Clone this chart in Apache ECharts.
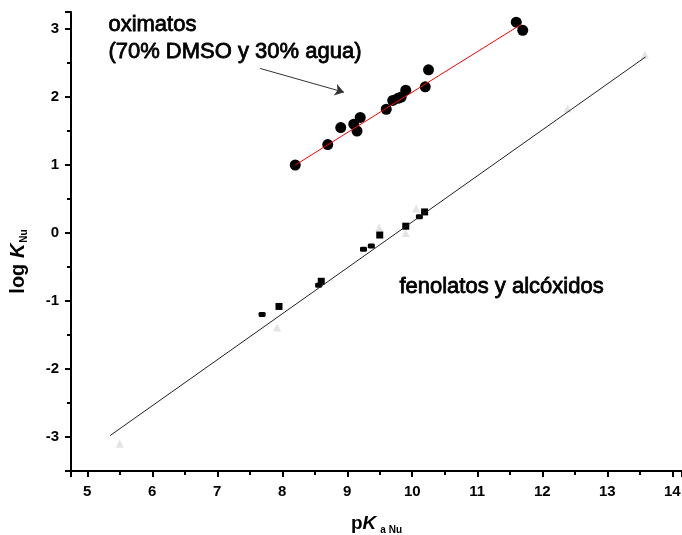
<!DOCTYPE html>
<html>
<head>
<meta charset="utf-8">
<script src="https://cdn.jsdelivr.net/npm/echarts@6/dist/echarts.min.js"></script>
<style>
  html, body { margin: 0; padding: 0; background: #fff; }
  #chart { width: 682px; height: 535px; }
</style>
</head>
<body>
<div id="chart"></div>
<script>
// oximatos (70% DMSO / 30% agua): pKa, log k
var oximatos = [
    [8.2, 1.0], [8.7, 1.3], [8.9, 1.55], [9.1, 1.6], [9.15, 1.5], [9.2, 1.7],
    [9.6, 1.82], [9.7, 1.95], [9.78, 1.98], [9.83, 2.0], [9.9, 2.1],
    [10.2, 2.15], [10.25, 2.4], [11.6, 3.1], [11.7, 2.98]
];
// fenolatos y alcóxidos, several sets
var fenolatosCuadrados = [[7.95, -1.08], [8.6, -0.71], [9.5, -0.03], [9.9, 0.1], [10.19, 0.31]];
var fenolatosOtros = [[7.69, -1.2], [8.56, -0.77], [9.25, -0.24], [9.37, -0.19], [10.11, 0.24]];
var alcoxidosClaros = [[5.5, -3.1], [7.92, -1.39], [9.49, 0.08], [9.9, 0.0], [10.06, 0.36], [12.39, 1.83], [13.58, 2.62]];
// fitted lines
var ajusteOximatos = [[8.2, 1.0], [11.68, 3.07]];
var ajusteFenolatos = [[5.35, -2.98], [13.59, 2.59]];
// arrow pointing at the oxime data
var flecha = [[7.66, 2.42], [8.95, 2.07]];

var xTicks = [5, 6, 7, 8, 9, 10, 11, 12, 13, 14];
var yTicks = [-3, -2, -1, 0, 1, 2, 3];

var font = '"Liberation Sans", Arial, sans-serif';

function enteros(v) {
    return Math.abs(v - Math.round(v)) < 1e-6 ? String(Math.round(v)) : '';
}

var chart = echarts.init(document.getElementById('chart'));

chart.setOption({
    animation: false,
    backgroundColor: '#fff',
    grid: { left: 71, right: 0, top: 12, bottom: 64, containLabel: false, outerBoundsMode: 'none' },
    xAxis: {
        type: 'value',
        min: 4.75,
        max: 14.15,
        splitNumber: xTicks.length - 1,
        axisLine: { show: true, onZero: false, lineStyle: { color: '#000', width: 2 } },
        axisTick: { show: true, inside: false, length: 6, lineStyle: { color: '#000', width: 2 } },
        minorTick: { show: true, splitNumber: 2, length: 4, lineStyle: { color: '#000', width: 2 } },
        splitLine: { show: false },
        axisLabel: {
            margin: 13, color: '#000', fontSize: 15, fontWeight: 'bold', fontFamily: font,
            formatter: enteros, showMinLabel: true, showMaxLabel: true, hideOverlap: false
        },
        name: '{p|p}{k|K}{s|a Nu}',
        nameLocation: 'middle',
        nameGap: 42,
        nameTextStyle: {
            rich: {
                p: { fontSize: 19, fontWeight: 'bold', fontFamily: font, color: '#000', lineHeight: 22 },
                k: { fontSize: 19, fontWeight: 'bold', fontStyle: 'italic', fontFamily: font, color: '#000', lineHeight: 22 },
                s: { fontSize: 10, fontWeight: 'bold', fontFamily: font, color: '#000', lineHeight: 12,
                     verticalAlign: 'bottom', padding: [16, 0, 0, 4] }
            }
        }
    },
    yAxis: {
        type: 'value',
        min: -3.5,
        max: 3.25,
        splitNumber: yTicks.length,
        axisLine: { show: true, onZero: false, lineStyle: { color: '#000', width: 2 } },
        axisTick: { show: true, inside: false, length: 6, lineStyle: { color: '#000', width: 2 } },
        minorTick: { show: true, splitNumber: 2, length: 4, lineStyle: { color: '#000', width: 2 } },
        splitLine: { show: false },
        axisLabel: {
            margin: 12, color: '#000', fontSize: 15, fontWeight: 'bold', fontFamily: font,
            formatter: enteros, hideOverlap: false
        },
        name: '{l|log }{k|K}{s|Nu}',
        nameLocation: 'middle',
        nameRotate: 90,
        nameGap: 42,
        nameTextStyle: {
            padding: [0, 40, 0, 0],
            rich: {
                l: { fontSize: 20, fontWeight: 'bold', fontFamily: font, color: '#000', lineHeight: 22 },
                k: { fontSize: 20, fontWeight: 'bold', fontStyle: 'italic', fontFamily: font, color: '#000', lineHeight: 22 },
                s: { fontSize: 10, fontWeight: 'bold', fontFamily: font, color: '#000', lineHeight: 12,
                     verticalAlign: 'bottom', padding: [16, 0, 0, 1] }
            }
        }
    },
    graphic: [
        { type: 'text', left: 108, top: 14, style: { text: 'oximatos', font: '22px ' + font, fill: '#000', stroke: '#000', lineWidth: 0.8 } },
        { type: 'text', left: 108, top: 41, style: { text: '(70% DMSO y 30% agua)', font: '22px ' + font, fill: '#000', stroke: '#000', lineWidth: 0.8 } },
        { type: 'text', left: 399, top: 276, style: { text: 'fenolatos y alcóxidos', font: '22px ' + font, fill: '#000', stroke: '#000', lineWidth: 0.8 } }
    ],
    series: [
        {
            type: 'line', data: ajusteFenolatos, showSymbol: false, silent: true,
            lineStyle: { color: '#222', width: 1 }
        },
        {
            type: 'line', data: ajusteOximatos, showSymbol: false, silent: true,
            lineStyle: { color: '#ff0000', width: 1 }
        },
        {
            type: 'scatter', data: alcoxidosClaros, symbol: 'triangle', symbolSize: 8,
            itemStyle: { color: '#e4e4e4', opacity: 1 }
        },
        {
            type: 'scatter', data: fenolatosOtros, symbol: 'roundRect', symbolSize: [7, 5],
            itemStyle: { color: '#000', opacity: 1 }
        },
        {
            type: 'scatter', data: fenolatosCuadrados, symbol: 'rect', symbolSize: 7,
            itemStyle: { color: '#000', opacity: 1 }
        },
        {
            type: 'scatter', data: oximatos, symbol: 'circle', symbolSize: 11,
            itemStyle: { color: '#000', opacity: 1 }
        },
        {
            type: 'line', data: [], silent: true,
            markLine: {
                silent: true,
                symbol: ['none', 'arrow'],
                symbolSize: 9,
                label: { show: false },
                lineStyle: { color: '#333', width: 1, type: 'solid' },
                data: [[
                    { coord: flecha[0], symbol: 'none' },
                    { coord: flecha[1], symbol: 'arrow', symbolSize: 9 }
                ]]
            }
        }
    ]
});
</script>
</body>
</html>
